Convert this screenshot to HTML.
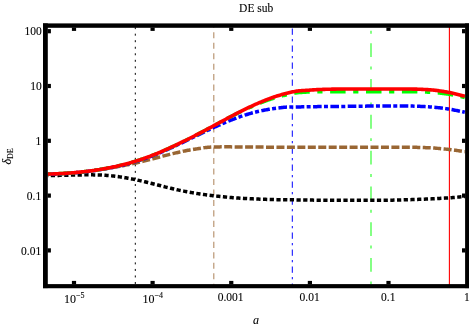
<!DOCTYPE html>
<html><head><meta charset="utf-8">
<style>
html,body{margin:0;padding:0;background:#fff;}
body{width:471px;height:326px;overflow:hidden;font-family:"Liberation Serif",serif;}
svg{display:block;}
g.t{will-change:transform;}
text{font-family:"Liberation Serif",serif;fill:#000;stroke:#000;stroke-width:0.1px;}
</style></head><body>
<svg width="471" height="326" viewBox="0 0 471 326">
<rect width="471" height="326" fill="#fff"/>
<defs><clipPath id="c"><rect x="45" y="25" width="422" height="261"/></clipPath></defs>
<g clip-path="url(#c)" fill="none">
  <!-- vertical marker lines -->
  <line x1="135.3" x2="135.3" y1="27.13" y2="286" stroke="#000" stroke-width="1" stroke-dasharray="2 4.535"/>
  <line x1="213.8" x2="213.8" y1="21.72" y2="286" stroke="#996633" stroke-opacity="0.75" stroke-width="1.1" stroke-dasharray="6.1 4.38"/>
  <line x1="292.3" x2="292.3" y1="28.5" y2="286" stroke="#0000ff" stroke-width="1" stroke-dasharray="6.3 4.2 2.3 4.2"/>
  <line x1="371" x2="371" y1="30.8" y2="286" stroke="#00ff00" stroke-opacity="0.8" stroke-width="1.2" stroke-dasharray="2.9 9.55 13.8 9.55"/>
  <line x1="449.4" x2="449.4" y1="25" y2="286" stroke="#ff0000" stroke-width="1.1"/>
  <!-- curves -->
  <path d="M47.8,175.41 L48.8,175.41 L49.8,175.41 L50.8,175.41 L51.8,175.41 L52.8,175.40 L53.8,175.40 L54.8,175.40 L55.8,175.39 L56.8,175.39 L57.8,175.39 L58.8,175.38 L59.8,175.37 L60.8,175.35 L61.8,175.33 L62.8,175.31 L63.8,175.28 L64.8,175.26 L65.8,175.23 L66.8,175.21 L67.8,175.18 L68.8,175.16 L69.8,175.14 L70.8,175.11 L71.8,175.08 L72.8,175.06 L73.8,175.03 L74.8,175.01 L75.8,174.99 L76.8,174.97 L77.8,174.95 L78.8,174.93 L79.8,174.92 L80.8,174.90 L81.8,174.88 L82.8,174.87 L83.8,174.86 L84.8,174.84 L85.8,174.84 L86.8,174.83 L87.8,174.83 L88.8,174.83 L89.8,174.84 L90.8,174.84 L91.8,174.86 L92.8,174.87 L93.8,174.89 L94.8,174.91 L95.8,174.93 L96.8,174.95 L97.8,174.97 L98.8,175.00 L99.8,175.03 L100.8,175.07 L101.8,175.12 L102.8,175.18 L103.8,175.24 L104.8,175.30 L105.8,175.37 L106.8,175.44 L107.8,175.51 L108.8,175.59 L109.8,175.68 L110.8,175.77 L111.8,175.88 L112.8,175.98 L113.8,176.10 L114.8,176.22 L115.8,176.34 L116.8,176.47 L117.8,176.59 L118.8,176.73 L119.8,176.87 L120.8,177.01 L121.8,177.17 L122.8,177.33 L123.8,177.49 L124.8,177.66 L125.8,177.83 L126.8,178.01 L127.8,178.18 L128.8,178.36 L129.8,178.55 L130.8,178.74 L131.8,178.94 L132.8,179.14 L133.8,179.34 L134.8,179.55 L135.8,179.76 L136.8,179.97 L137.8,180.19 L138.8,180.40 L139.8,180.62 L140.8,180.85 L141.8,181.08 L142.8,181.31 L143.8,181.55 L144.8,181.79 L145.8,182.02 L146.8,182.27 L147.8,182.51 L148.8,182.75 L149.8,183.00 L150.8,183.25 L151.8,183.50 L152.8,183.76 L153.8,184.01 L154.8,184.27 L155.8,184.52 L156.8,184.78 L157.8,185.03 L158.8,185.29 L159.8,185.55 L160.8,185.80 L161.8,186.06 L162.8,186.32 L163.8,186.57 L164.8,186.83 L165.8,187.08 L166.8,187.33 L167.8,187.57 L168.8,187.82 L169.8,188.06 L170.8,188.30 L171.8,188.54 L172.8,188.78 L173.8,189.01 L174.8,189.24 L175.8,189.47 L176.8,189.69 L177.8,189.91 L178.8,190.13 L179.8,190.34 L180.8,190.55 L181.8,190.75 L182.8,190.95 L183.8,191.15 L184.8,191.35 L185.8,191.54 L186.8,191.73 L187.8,191.91 L188.8,192.10 L189.8,192.28 L190.8,192.45 L191.8,192.63 L192.8,192.80 L193.8,192.97 L194.8,193.13 L195.8,193.29 L196.8,193.45 L197.8,193.61 L198.8,193.76 L199.8,193.92 L200.8,194.07 L201.8,194.21 L202.8,194.36 L203.8,194.50 L204.8,194.64 L205.8,194.78 L206.8,194.91 L207.8,195.04 L208.8,195.17 L209.8,195.30 L210.8,195.42 L211.8,195.55 L212.8,195.67 L213.8,195.79 L214.8,195.90 L215.8,196.02 L216.8,196.13 L217.8,196.24 L218.8,196.34 L219.8,196.45 L220.8,196.55 L221.8,196.65 L222.8,196.75 L223.8,196.85 L224.8,196.95 L225.8,197.04 L226.8,197.13 L227.8,197.22 L228.8,197.31 L229.8,197.39 L230.8,197.47 L231.8,197.56 L232.8,197.64 L233.8,197.71 L234.8,197.79 L235.8,197.86 L236.8,197.94 L237.8,198.01 L238.8,198.07 L239.8,198.14 L240.8,198.21 L241.8,198.27 L242.8,198.33 L243.8,198.40 L244.8,198.45 L245.8,198.51 L246.8,198.57 L247.8,198.62 L248.8,198.67 L249.8,198.73 L250.8,198.78 L251.8,198.82 L252.8,198.87 L253.8,198.92 L254.8,198.96 L255.8,199.01 L256.8,199.05 L257.8,199.09 L258.8,199.12 L259.8,199.16 L260.8,199.20 L261.8,199.23 L262.8,199.27 L263.8,199.30 L264.8,199.33 L265.8,199.36 L266.8,199.39 L267.8,199.42 L268.8,199.45 L269.8,199.47 L270.8,199.50 L271.8,199.52 L272.8,199.55 L273.8,199.57 L274.8,199.59 L275.8,199.61 L276.8,199.63 L277.8,199.65 L278.8,199.66 L279.8,199.68 L280.8,199.70 L281.8,199.71 L282.8,199.72 L283.8,199.74 L284.8,199.75 L285.8,199.76 L286.8,199.77 L287.8,199.79 L288.8,199.80 L289.8,199.81 L290.8,199.83 L291.8,199.84 L292.8,199.86 L293.8,199.87 L294.8,199.88 L295.8,199.90 L296.8,199.91 L297.8,199.92 L298.8,199.93 L299.8,199.95 L300.8,199.96 L301.8,199.97 L302.8,199.99 L303.8,200.00 L304.8,200.01 L305.8,200.03 L306.8,200.04 L307.8,200.06 L308.8,200.07 L309.8,200.08 L310.8,200.10 L311.8,200.11 L312.8,200.12 L313.8,200.14 L314.8,200.15 L315.8,200.16 L316.8,200.17 L317.8,200.18 L318.8,200.19 L319.8,200.20 L320.8,200.21 L321.8,200.22 L322.8,200.22 L323.8,200.23 L324.8,200.24 L325.8,200.25 L326.8,200.26 L327.8,200.27 L328.8,200.27 L329.8,200.28 L330.8,200.29 L331.8,200.29 L332.8,200.30 L333.8,200.30 L334.8,200.30 L335.8,200.30 L336.8,200.30 L337.8,200.30 L338.8,200.30 L339.8,200.30 L340.8,200.30 L341.8,200.30 L342.8,200.30 L343.8,200.30 L344.8,200.30 L345.8,200.30 L346.8,200.30 L347.8,200.30 L348.8,200.30 L349.8,200.30 L350.8,200.30 L351.8,200.30 L352.8,200.30 L353.8,200.30 L354.8,200.30 L355.8,200.30 L356.8,200.30 L357.8,200.30 L358.8,200.30 L359.8,200.30 L360.8,200.30 L361.8,200.30 L362.8,200.30 L363.8,200.30 L364.8,200.30 L365.8,200.30 L366.8,200.30 L367.8,200.30 L368.8,200.30 L369.8,200.30 L370.8,200.30 L371.8,200.30 L372.8,200.30 L373.8,200.30 L374.8,200.30 L375.8,200.30 L376.8,200.30 L377.8,200.30 L378.8,200.30 L379.8,200.30 L380.8,200.29 L381.8,200.29 L382.8,200.28 L383.8,200.27 L384.8,200.26 L385.8,200.25 L386.8,200.23 L387.8,200.22 L388.8,200.20 L389.8,200.19 L390.8,200.17 L391.8,200.16 L392.8,200.14 L393.8,200.12 L394.8,200.10 L395.8,200.08 L396.8,200.06 L397.8,200.03 L398.8,200.00 L399.8,199.97 L400.8,199.93 L401.8,199.90 L402.8,199.87 L403.8,199.84 L404.8,199.81 L405.8,199.78 L406.8,199.75 L407.8,199.72 L408.8,199.69 L409.8,199.66 L410.8,199.63 L411.8,199.60 L412.8,199.57 L413.8,199.54 L414.8,199.51 L415.8,199.47 L416.8,199.44 L417.8,199.41 L418.8,199.37 L419.8,199.34 L420.8,199.30 L421.8,199.27 L422.8,199.23 L423.8,199.19 L424.8,199.15 L425.8,199.11 L426.8,199.07 L427.8,199.03 L428.8,198.99 L429.8,198.94 L430.8,198.89 L431.8,198.85 L432.8,198.80 L433.8,198.74 L434.8,198.69 L435.8,198.64 L436.8,198.58 L437.8,198.52 L438.8,198.47 L439.8,198.41 L440.8,198.35 L441.8,198.30 L442.8,198.24 L443.8,198.18 L444.8,198.12 L445.8,198.05 L446.8,197.99 L447.8,197.92 L448.8,197.86 L449.8,197.79 L450.8,197.71 L451.8,197.64 L452.8,197.56 L453.8,197.47 L454.8,197.39 L455.8,197.31 L456.8,197.22 L457.8,197.13 L458.8,197.04 L459.8,196.94 L460.8,196.85 L461.8,196.75 L462.8,196.65 L463.8,196.55 L464.8,196.44" stroke="#000" stroke-width="3.5" stroke-dasharray="4.25 2.45" stroke-dashoffset="3.69"/>
  <path d="M47.8,174.30 L48.8,174.27 L49.8,174.24 L50.8,174.20 L51.8,174.17 L52.8,174.13 L53.8,174.09 L54.8,174.05 L55.8,174.01 L56.8,173.97 L57.8,173.92 L58.8,173.87 L59.8,173.82 L60.8,173.77 L61.8,173.72 L62.8,173.66 L63.8,173.60 L64.8,173.54 L65.8,173.47 L66.8,173.41 L67.8,173.34 L68.8,173.27 L69.8,173.20 L70.8,173.12 L71.8,173.04 L72.8,172.96 L73.8,172.88 L74.8,172.79 L75.8,172.70 L76.8,172.61 L77.8,172.52 L78.8,172.42 L79.8,172.32 L80.8,172.22 L81.8,172.11 L82.8,172.01 L83.8,171.89 L84.8,171.78 L85.8,171.66 L86.8,171.54 L87.8,171.42 L88.8,171.30 L89.8,171.17 L90.8,171.04 L91.8,170.90 L92.8,170.76 L93.8,170.62 L94.8,170.47 L95.8,170.32 L96.8,170.17 L97.8,170.02 L98.8,169.87 L99.8,169.71 L100.8,169.54 L101.8,169.38 L102.8,169.21 L103.8,169.04 L104.8,168.86 L105.8,168.69 L106.8,168.52 L107.8,168.35 L108.8,168.18 L109.8,168.00 L110.8,167.83 L111.8,167.66 L112.8,167.49 L113.8,167.32 L114.8,167.14 L115.8,166.97 L116.8,166.79 L117.8,166.61 L118.8,166.42 L119.8,166.24 L120.8,166.06 L121.8,165.87 L122.8,165.68 L123.8,165.49 L124.8,165.30 L125.8,165.10 L126.8,164.90 L127.8,164.70 L128.8,164.50 L129.8,164.29 L130.8,164.07 L131.8,163.86 L132.8,163.64 L133.8,163.41 L134.8,163.19 L135.8,162.96 L136.8,162.74 L137.8,162.51 L138.8,162.28 L139.8,162.04 L140.8,161.80 L141.8,161.57 L142.8,161.32 L143.8,161.08 L144.8,160.84 L145.8,160.59 L146.8,160.34 L147.8,160.09 L148.8,159.84 L149.8,159.58 L150.8,159.33 L151.8,159.07 L152.8,158.81 L153.8,158.54 L154.8,158.28 L155.8,158.02 L156.8,157.76 L157.8,157.50 L158.8,157.24 L159.8,156.97 L160.8,156.71 L161.8,156.45 L162.8,156.18 L163.8,155.92 L164.8,155.66 L165.8,155.40 L166.8,155.14 L167.8,154.89 L168.8,154.63 L169.8,154.38 L170.8,154.13 L171.8,153.88 L172.8,153.63 L173.8,153.38 L174.8,153.14 L175.8,152.90 L176.8,152.67 L177.8,152.44 L178.8,152.21 L179.8,151.99 L180.8,151.77 L181.8,151.55 L182.8,151.33 L183.8,151.12 L184.8,150.92 L185.8,150.72 L186.8,150.52 L187.8,150.34 L188.8,150.16 L189.8,149.98 L190.8,149.81 L191.8,149.65 L192.8,149.49 L193.8,149.33 L194.8,149.18 L195.8,149.03 L196.8,148.87 L197.8,148.72 L198.8,148.57 L199.8,148.41 L200.8,148.25 L201.8,148.09 L202.8,147.93 L203.8,147.78 L204.8,147.64 L205.8,147.51 L206.8,147.40 L207.8,147.31 L208.8,147.24 L209.8,147.18 L210.8,147.12 L211.8,147.06 L212.8,147.02 L213.8,146.98 L214.8,146.95 L215.8,146.94 L216.8,146.92 L217.8,146.91 L218.8,146.89 L219.8,146.88 L220.8,146.87 L221.8,146.86 L222.8,146.86 L223.8,146.85 L224.8,146.85 L225.8,146.85 L226.8,146.85 L227.8,146.86 L228.8,146.86 L229.8,146.87 L230.8,146.87 L231.8,146.88 L232.8,146.89 L233.8,146.90 L234.8,146.91 L235.8,146.92 L236.8,146.92 L237.8,146.93 L238.8,146.94 L239.8,146.95 L240.8,146.96 L241.8,146.96 L242.8,146.97 L243.8,146.98 L244.8,146.99 L245.8,146.99 L246.8,147.00 L247.8,147.01 L248.8,147.02 L249.8,147.03 L250.8,147.03 L251.8,147.04 L252.8,147.05 L253.8,147.06 L254.8,147.06 L255.8,147.07 L256.8,147.08 L257.8,147.09 L258.8,147.09 L259.8,147.10 L260.8,147.10 L261.8,147.11 L262.8,147.12 L263.8,147.12 L264.8,147.13 L265.8,147.13 L266.8,147.14 L267.8,147.14 L268.8,147.15 L269.8,147.16 L270.8,147.16 L271.8,147.17 L272.8,147.17 L273.8,147.18 L274.8,147.18 L275.8,147.18 L276.8,147.19 L277.8,147.19 L278.8,147.20 L279.8,147.20 L280.8,147.20 L281.8,147.21 L282.8,147.21 L283.8,147.21 L284.8,147.22 L285.8,147.22 L286.8,147.22 L287.8,147.23 L288.8,147.23 L289.8,147.23 L290.8,147.24 L291.8,147.24 L292.8,147.24 L293.8,147.24 L294.8,147.24 L295.8,147.25 L296.8,147.25 L297.8,147.25 L298.8,147.25 L299.8,147.25 L300.8,147.25 L301.8,147.25 L302.8,147.25 L303.8,147.25 L304.8,147.25 L305.8,147.25 L306.8,147.25 L307.8,147.25 L308.8,147.25 L309.8,147.25 L310.8,147.25 L311.8,147.25 L312.8,147.25 L313.8,147.25 L314.8,147.25 L315.8,147.25 L316.8,147.25 L317.8,147.25 L318.8,147.25 L319.8,147.25 L320.8,147.25 L321.8,147.25 L322.8,147.25 L323.8,147.25 L324.8,147.25 L325.8,147.25 L326.8,147.25 L327.8,147.25 L328.8,147.25 L329.8,147.25 L330.8,147.25 L331.8,147.25 L332.8,147.25 L333.8,147.25 L334.8,147.25 L335.8,147.25 L336.8,147.25 L337.8,147.25 L338.8,147.25 L339.8,147.25 L340.8,147.25 L341.8,147.25 L342.8,147.25 L343.8,147.25 L344.8,147.25 L345.8,147.25 L346.8,147.25 L347.8,147.25 L348.8,147.25 L349.8,147.25 L350.8,147.25 L351.8,147.25 L352.8,147.25 L353.8,147.25 L354.8,147.25 L355.8,147.25 L356.8,147.25 L357.8,147.25 L358.8,147.25 L359.8,147.25 L360.8,147.25 L361.8,147.25 L362.8,147.25 L363.8,147.25 L364.8,147.25 L365.8,147.25 L366.8,147.25 L367.8,147.25 L368.8,147.25 L369.8,147.25 L370.8,147.25 L371.8,147.25 L372.8,147.25 L373.8,147.25 L374.8,147.25 L375.8,147.25 L376.8,147.25 L377.8,147.25 L378.8,147.25 L379.8,147.25 L380.8,147.25 L381.8,147.25 L382.8,147.25 L383.8,147.25 L384.8,147.25 L385.8,147.25 L386.8,147.25 L387.8,147.25 L388.8,147.25 L389.8,147.25 L390.8,147.25 L391.8,147.25 L392.8,147.25 L393.8,147.25 L394.8,147.25 L395.8,147.25 L396.8,147.25 L397.8,147.25 L398.8,147.25 L399.8,147.25 L400.8,147.25 L401.8,147.25 L402.8,147.25 L403.8,147.25 L404.8,147.25 L405.8,147.25 L406.8,147.25 L407.8,147.25 L408.8,147.25 L409.8,147.25 L410.8,147.25 L411.8,147.26 L412.8,147.27 L413.8,147.29 L414.8,147.31 L415.8,147.34 L416.8,147.36 L417.8,147.39 L418.8,147.42 L419.8,147.44 L420.8,147.47 L421.8,147.50 L422.8,147.53 L423.8,147.56 L424.8,147.60 L425.8,147.63 L426.8,147.67 L427.8,147.71 L428.8,147.76 L429.8,147.80 L430.8,147.85 L431.8,147.90 L432.8,147.96 L433.8,148.02 L434.8,148.09 L435.8,148.18 L436.8,148.27 L437.8,148.37 L438.8,148.48 L439.8,148.58 L440.8,148.68 L441.8,148.77 L442.8,148.86 L443.8,148.95 L444.8,149.04 L445.8,149.13 L446.8,149.22 L447.8,149.31 L448.8,149.41 L449.8,149.52 L450.8,149.64 L451.8,149.77 L452.8,149.90 L453.8,150.04 L454.8,150.18 L455.8,150.32 L456.8,150.47 L457.8,150.62 L458.8,150.77 L459.8,150.92 L460.8,151.08 L461.8,151.24 L462.8,151.40 L463.8,151.56 L464.8,151.73" stroke="#996633" stroke-width="3.5" stroke-dasharray="8 2.45" stroke-dashoffset="9.06"/>
  <path d="M47.8,174.30 L48.8,174.27 L49.8,174.24 L50.8,174.20 L51.8,174.17 L52.8,174.13 L53.8,174.09 L54.8,174.05 L55.8,174.01 L56.8,173.97 L57.8,173.92 L58.8,173.87 L59.8,173.82 L60.8,173.77 L61.8,173.72 L62.8,173.66 L63.8,173.60 L64.8,173.54 L65.8,173.47 L66.8,173.41 L67.8,173.34 L68.8,173.27 L69.8,173.20 L70.8,173.12 L71.8,173.04 L72.8,172.96 L73.8,172.88 L74.8,172.79 L75.8,172.70 L76.8,172.61 L77.8,172.52 L78.8,172.42 L79.8,172.32 L80.8,172.22 L81.8,172.11 L82.8,172.01 L83.8,171.89 L84.8,171.78 L85.8,171.66 L86.8,171.54 L87.8,171.42 L88.8,171.30 L89.8,171.17 L90.8,171.04 L91.8,170.90 L92.8,170.76 L93.8,170.62 L94.8,170.48 L95.8,170.33 L96.8,170.18 L97.8,170.02 L98.8,169.87 L99.8,169.70 L100.8,169.54 L101.8,169.37 L102.8,169.19 L103.8,169.01 L104.8,168.83 L105.8,168.65 L106.8,168.47 L107.8,168.28 L108.8,168.10 L109.8,167.91 L110.8,167.72 L111.8,167.53 L112.8,167.33 L113.8,167.13 L114.8,166.93 L115.8,166.73 L116.8,166.52 L117.8,166.30 L118.8,166.08 L119.8,165.86 L120.8,165.64 L121.8,165.41 L122.8,165.17 L123.8,164.93 L124.8,164.69 L125.8,164.44 L126.8,164.19 L127.8,163.93 L128.8,163.66 L129.8,163.38 L130.8,163.10 L131.8,162.81 L132.8,162.52 L133.8,162.22 L134.8,161.92 L135.8,161.61 L136.8,161.29 L137.8,160.98 L138.8,160.66 L139.8,160.33 L140.8,160.00 L141.8,159.66 L142.8,159.32 L143.8,158.98 L144.8,158.63 L145.8,158.27 L146.8,157.91 L147.8,157.55 L148.8,157.18 L149.8,156.81 L150.8,156.43 L151.8,156.05 L152.8,155.66 L153.8,155.27 L154.8,154.88 L155.8,154.48 L156.8,154.07 L157.8,153.67 L158.8,153.26 L159.8,152.84 L160.8,152.42 L161.8,152.00 L162.8,151.57 L163.8,151.13 L164.8,150.70 L165.8,150.26 L166.8,149.82 L167.8,149.37 L168.8,148.93 L169.8,148.47 L170.8,148.02 L171.8,147.56 L172.8,147.10 L173.8,146.63 L174.8,146.17 L175.8,145.70 L176.8,145.23 L177.8,144.76 L178.8,144.29 L179.8,143.81 L180.8,143.34 L181.8,142.86 L182.8,142.37 L183.8,141.89 L184.8,141.41 L185.8,140.92 L186.8,140.44 L187.8,139.96 L188.8,139.47 L189.8,138.99 L190.8,138.50 L191.8,138.01 L192.8,137.52 L193.8,137.04 L194.8,136.55 L195.8,136.06 L196.8,135.57 L197.8,135.09 L198.8,134.61 L199.8,134.12 L200.8,133.64 L201.8,133.16 L202.8,132.67 L203.8,132.19 L204.8,131.71 L205.8,131.24 L206.8,130.76 L207.8,130.29 L208.8,129.82 L209.8,129.35 L210.8,128.88 L211.8,128.42 L212.8,127.95 L213.8,127.49 L214.8,127.03 L215.8,126.58 L216.8,126.13 L217.8,125.68 L218.8,125.24 L219.8,124.80 L220.8,124.36 L221.8,123.92 L222.8,123.49 L223.8,123.06 L224.8,122.63 L225.8,122.21 L226.8,121.80 L227.8,121.39 L228.8,120.98 L229.8,120.58 L230.8,120.18 L231.8,119.79 L232.8,119.40 L233.8,119.01 L234.8,118.63 L235.8,118.25 L236.8,117.89 L237.8,117.53 L238.8,117.17 L239.8,116.82 L240.8,116.47 L241.8,116.13 L242.8,115.79 L243.8,115.46 L244.8,115.14 L245.8,114.82 L246.8,114.51 L247.8,114.21 L248.8,113.92 L249.8,113.63 L250.8,113.34 L251.8,113.06 L252.8,112.79 L253.8,112.53 L254.8,112.27 L255.8,112.02 L256.8,111.77 L257.8,111.54 L258.8,111.31 L259.8,111.08 L260.8,110.87 L261.8,110.65 L262.8,110.44 L263.8,110.24 L264.8,110.05 L265.8,109.86 L266.8,109.68 L267.8,109.50 L268.8,109.33 L269.8,109.17 L270.8,109.01 L271.8,108.85 L272.8,108.70 L273.8,108.56 L274.8,108.42 L275.8,108.28 L276.8,108.16 L277.8,108.04 L278.8,107.92 L279.8,107.80 L280.8,107.68 L281.8,107.56 L282.8,107.45 L283.8,107.34 L284.8,107.25 L285.8,107.17 L286.8,107.12 L287.8,107.08 L288.8,107.05 L289.8,107.03 L290.8,107.02 L291.8,107.00 L292.8,106.99 L293.8,106.97 L294.8,106.96 L295.8,106.95 L296.8,106.94 L297.8,106.93 L298.8,106.92 L299.8,106.90 L300.8,106.89 L301.8,106.87 L302.8,106.86 L303.8,106.84 L304.8,106.82 L305.8,106.81 L306.8,106.79 L307.8,106.77 L308.8,106.76 L309.8,106.74 L310.8,106.73 L311.8,106.71 L312.8,106.69 L313.8,106.68 L314.8,106.66 L315.8,106.65 L316.8,106.64 L317.8,106.62 L318.8,106.61 L319.8,106.60 L320.8,106.59 L321.8,106.58 L322.8,106.57 L323.8,106.57 L324.8,106.56 L325.8,106.55 L326.8,106.54 L327.8,106.54 L328.8,106.53 L329.8,106.52 L330.8,106.52 L331.8,106.51 L332.8,106.51 L333.8,106.50 L334.8,106.49 L335.8,106.48 L336.8,106.48 L337.8,106.47 L338.8,106.46 L339.8,106.45 L340.8,106.44 L341.8,106.43 L342.8,106.42 L343.8,106.41 L344.8,106.40 L345.8,106.38 L346.8,106.37 L347.8,106.36 L348.8,106.35 L349.8,106.33 L350.8,106.32 L351.8,106.30 L352.8,106.29 L353.8,106.28 L354.8,106.26 L355.8,106.25 L356.8,106.24 L357.8,106.23 L358.8,106.21 L359.8,106.20 L360.8,106.19 L361.8,106.18 L362.8,106.17 L363.8,106.15 L364.8,106.14 L365.8,106.13 L366.8,106.11 L367.8,106.10 L368.8,106.09 L369.8,106.07 L370.8,106.06 L371.8,106.05 L372.8,106.04 L373.8,106.03 L374.8,106.02 L375.8,106.02 L376.8,106.01 L377.8,106.00 L378.8,106.00 L379.8,106.00 L380.8,106.00 L381.8,106.00 L382.8,106.00 L383.8,106.00 L384.8,106.00 L385.8,106.00 L386.8,106.00 L387.8,106.00 L388.8,106.00 L389.8,106.00 L390.8,106.00 L391.8,106.00 L392.8,106.00 L393.8,106.00 L394.8,106.00 L395.8,106.00 L396.8,106.00 L397.8,106.00 L398.8,106.00 L399.8,106.00 L400.8,106.00 L401.8,106.00 L402.8,106.00 L403.8,106.00 L404.8,106.00 L405.8,106.00 L406.8,106.01 L407.8,106.02 L408.8,106.03 L409.8,106.05 L410.8,106.07 L411.8,106.09 L412.8,106.12 L413.8,106.14 L414.8,106.17 L415.8,106.19 L416.8,106.22 L417.8,106.26 L418.8,106.29 L419.8,106.34 L420.8,106.38 L421.8,106.43 L422.8,106.48 L423.8,106.53 L424.8,106.59 L425.8,106.65 L426.8,106.70 L427.8,106.77 L428.8,106.84 L429.8,106.91 L430.8,106.98 L431.8,107.06 L432.8,107.14 L433.8,107.23 L434.8,107.32 L435.8,107.41 L436.8,107.52 L437.8,107.63 L438.8,107.74 L439.8,107.86 L440.8,107.98 L441.8,108.10 L442.8,108.22 L443.8,108.35 L444.8,108.49 L445.8,108.63 L446.8,108.77 L447.8,108.92 L448.8,109.07 L449.8,109.23 L450.8,109.40 L451.8,109.58 L452.8,109.77 L453.8,109.96 L454.8,110.16 L455.8,110.36 L456.8,110.56 L457.8,110.76 L458.8,110.96 L459.8,111.16 L460.8,111.37 L461.8,111.58 L462.8,111.79 L463.8,112.00 L464.8,112.21" stroke="#0000ff" stroke-width="3.5" stroke-dasharray="8.6 2.3 4.0 2.43" stroke-dashoffset="0.37"/>
  <path d="M47.8,174.10 L48.8,174.07 L49.8,174.04 L50.8,174.00 L51.8,173.97 L52.8,173.93 L53.8,173.89 L54.8,173.85 L55.8,173.81 L56.8,173.77 L57.8,173.72 L58.8,173.67 L59.8,173.62 L60.8,173.57 L61.8,173.52 L62.8,173.46 L63.8,173.40 L64.8,173.34 L65.8,173.27 L66.8,173.21 L67.8,173.14 L68.8,173.07 L69.8,173.00 L70.8,172.92 L71.8,172.84 L72.8,172.76 L73.8,172.68 L74.8,172.59 L75.8,172.50 L76.8,172.41 L77.8,172.32 L78.8,172.22 L79.8,172.12 L80.8,172.02 L81.8,171.91 L82.8,171.81 L83.8,171.69 L84.8,171.58 L85.8,171.46 L86.8,171.34 L87.8,171.22 L88.8,171.10 L89.8,170.97 L90.8,170.84 L91.8,170.70 L92.8,170.56 L93.8,170.42 L94.8,170.28 L95.8,170.13 L96.8,169.98 L97.8,169.82 L98.8,169.67 L99.8,169.50 L100.8,169.34 L101.8,169.17 L102.8,169.00 L103.8,168.82 L104.8,168.64 L105.8,168.46 L106.8,168.27 L107.8,168.08 L108.8,167.89 L109.8,167.69 L110.8,167.49 L111.8,167.29 L112.8,167.08 L113.8,166.86 L114.8,166.65 L115.8,166.42 L116.8,166.20 L117.8,165.97 L118.8,165.74 L119.8,165.50 L120.8,165.26 L121.8,165.02 L122.8,164.77 L123.8,164.51 L124.8,164.25 L125.8,163.99 L126.8,163.72 L127.8,163.45 L128.8,163.18 L129.8,162.90 L130.8,162.61 L131.8,162.33 L132.8,162.03 L133.8,161.73 L134.8,161.43 L135.8,161.12 L136.8,160.81 L137.8,160.50 L138.8,160.18 L139.8,159.85 L140.8,159.52 L141.8,159.18 L142.8,158.84 L143.8,158.49 L144.8,158.14 L145.8,157.79 L146.8,157.43 L147.8,157.06 L148.8,156.70 L149.8,156.32 L150.8,155.94 L151.8,155.55 L152.8,155.16 L153.8,154.76 L154.8,154.36 L155.8,153.96 L156.8,153.55 L157.8,153.14 L158.8,152.72 L159.8,152.30 L160.8,151.88 L161.8,151.45 L162.8,151.01 L163.8,150.57 L164.8,150.13 L165.8,149.69 L166.8,149.24 L167.8,148.79 L168.8,148.34 L169.8,147.89 L170.8,147.43 L171.8,146.96 L172.8,146.50 L173.8,146.03 L174.8,145.56 L175.8,145.09 L176.8,144.62 L177.8,144.14 L178.8,143.66 L179.8,143.18 L180.8,142.70 L181.8,142.22 L182.8,141.73 L183.8,141.24 L184.8,140.75 L185.8,140.26 L186.8,139.76 L187.8,139.26 L188.8,138.77 L189.8,138.26 L190.8,137.76 L191.8,137.26 L192.8,136.75 L193.8,136.24 L194.8,135.73 L195.8,135.21 L196.8,134.70 L197.8,134.18 L198.8,133.66 L199.8,133.14 L200.8,132.62 L201.8,132.09 L202.8,131.56 L203.8,131.03 L204.8,130.50 L205.8,129.97 L206.8,129.44 L207.8,128.91 L208.8,128.37 L209.8,127.84 L210.8,127.30 L211.8,126.76 L212.8,126.22 L213.8,125.68 L214.8,125.14 L215.8,124.60 L216.8,124.06 L217.8,123.52 L218.8,122.99 L219.8,122.45 L220.8,121.91 L221.8,121.37 L222.8,120.83 L223.8,120.29 L224.8,119.76 L225.8,119.22 L226.8,118.69 L227.8,118.16 L228.8,117.63 L229.8,117.10 L230.8,116.59 L231.8,116.08 L232.8,115.58 L233.8,115.09 L234.8,114.59 L235.8,114.10 L236.8,113.60 L237.8,113.12 L238.8,112.63 L239.8,112.15 L240.8,111.67 L241.8,111.19 L242.8,110.71 L243.8,110.24 L244.8,109.77 L245.8,109.31 L246.8,108.85 L247.8,108.39 L248.8,107.94 L249.8,107.49 L250.8,107.04 L251.8,106.60 L252.8,106.16 L253.8,105.73 L254.8,105.30 L255.8,104.87 L256.8,104.45 L257.8,104.04 L258.8,103.64 L259.8,103.23 L260.8,102.83 L261.8,102.44 L262.8,102.05 L263.8,101.66 L264.8,101.28 L265.8,100.91 L266.8,100.55 L267.8,100.19 L268.8,99.84 L269.8,99.50 L270.8,99.16 L271.8,98.83 L272.8,98.50 L273.8,98.19 L274.8,97.88 L275.8,97.58 L276.8,97.28 L277.8,97.00 L278.8,96.73 L279.8,96.46 L280.8,96.19 L281.8,95.94 L282.8,95.68 L283.8,95.44 L284.8,95.21 L285.8,94.97 L286.8,94.74 L287.8,94.53 L288.8,94.31 L289.8,94.09 L290.8,93.88 L291.8,93.67 L292.8,93.47 L293.8,93.28 L294.8,93.10 L295.8,92.95 L296.8,92.82 L297.8,92.71 L298.8,92.63 L299.8,92.55 L300.8,92.47 L301.8,92.40 L302.8,92.34 L303.8,92.28 L304.8,92.22 L305.8,92.17 L306.8,92.12 L307.8,92.07 L308.8,92.02 L309.8,91.96 L310.8,91.93 L311.8,91.91 L312.8,91.89 L313.8,91.86 L314.8,91.84 L315.8,91.83 L316.8,91.81 L317.8,91.80 L318.8,91.80 L319.8,91.80 L320.8,91.79 L321.8,91.78 L322.8,91.77 L323.8,91.77 L324.8,91.76 L325.8,91.76 L326.8,91.76 L327.8,91.76 L328.8,91.76 L329.8,91.76 L330.8,91.76 L331.8,91.77 L332.8,91.78 L333.8,91.79 L334.8,91.80 L335.8,91.79 L336.8,91.78 L337.8,91.76 L338.8,91.75 L339.8,91.74 L340.8,91.72 L341.8,91.71 L342.8,91.70 L343.8,91.69 L344.8,91.68 L345.8,91.67 L346.8,91.67 L347.8,91.66 L348.8,91.66 L349.8,91.66 L350.8,91.66 L351.8,91.66 L352.8,91.66 L353.8,91.66 L354.8,91.67 L355.8,91.67 L356.8,91.67 L357.8,91.67 L358.8,91.67 L359.8,91.67 L360.8,91.67 L361.8,91.67 L362.8,91.67 L363.8,91.67 L364.8,91.67 L365.8,91.67 L366.8,91.67 L367.8,91.68 L368.8,91.68 L369.8,91.68 L370.8,91.68 L371.8,91.68 L372.8,91.68 L373.8,91.68 L374.8,91.68 L375.8,91.68 L376.8,91.68 L377.8,91.68 L378.8,91.68 L379.8,91.68 L380.8,91.69 L381.8,91.69 L382.8,91.69 L383.8,91.69 L384.8,91.69 L385.8,91.69 L386.8,91.69 L387.8,91.69 L388.8,91.69 L389.8,91.69 L390.8,91.69 L391.8,91.69 L392.8,91.69 L393.8,91.70 L394.8,91.70 L395.8,91.70 L396.8,91.70 L397.8,91.70 L398.8,91.70 L399.8,91.70 L400.8,91.69 L401.8,91.69 L402.8,91.68 L403.8,91.68 L404.8,91.68 L405.8,91.68 L406.8,91.69 L407.8,91.69 L408.8,91.70 L409.8,91.71 L410.8,91.71 L411.8,91.72 L412.8,91.73 L413.8,91.74 L414.8,91.75 L415.8,91.76 L416.8,91.78 L417.8,91.80 L418.8,91.82 L419.8,91.85 L420.8,91.88 L421.8,91.91 L422.8,91.95 L423.8,91.99 L424.8,92.03 L425.8,92.08 L426.8,92.12 L427.8,92.18 L428.8,92.23 L429.8,92.30 L430.8,92.34 L431.8,92.39 L432.8,92.44 L433.8,92.49 L434.8,92.56 L435.8,92.65 L436.8,92.74 L437.8,92.84 L438.8,92.95 L439.8,93.07 L440.8,93.18 L441.8,93.30 L442.8,93.42 L443.8,93.55 L444.8,93.69 L445.8,93.83 L446.8,93.97 L447.8,94.12 L448.8,94.27 L449.8,94.43 L450.8,94.60 L451.8,94.77 L452.8,94.95 L453.8,95.13 L454.8,95.32 L455.8,95.52 L456.8,95.72 L457.8,95.93 L458.8,96.15 L459.8,96.37 L460.8,96.60 L461.8,96.84 L462.8,97.09 L463.8,97.34 L464.8,97.60" stroke="#00ff00" stroke-width="3.5" stroke-dasharray="15.5 7.6 5.2 7.6" stroke-dashoffset="24.98"/>
  <path d="M47.8,174.10 L48.8,174.07 L49.8,174.04 L50.8,174.00 L51.8,173.97 L52.8,173.93 L53.8,173.89 L54.8,173.85 L55.8,173.81 L56.8,173.77 L57.8,173.72 L58.8,173.67 L59.8,173.62 L60.8,173.57 L61.8,173.52 L62.8,173.46 L63.8,173.40 L64.8,173.34 L65.8,173.27 L66.8,173.21 L67.8,173.14 L68.8,173.07 L69.8,173.00 L70.8,172.92 L71.8,172.84 L72.8,172.76 L73.8,172.68 L74.8,172.59 L75.8,172.50 L76.8,172.41 L77.8,172.32 L78.8,172.22 L79.8,172.12 L80.8,172.02 L81.8,171.91 L82.8,171.81 L83.8,171.69 L84.8,171.58 L85.8,171.46 L86.8,171.34 L87.8,171.22 L88.8,171.10 L89.8,170.97 L90.8,170.84 L91.8,170.70 L92.8,170.56 L93.8,170.42 L94.8,170.28 L95.8,170.13 L96.8,169.98 L97.8,169.82 L98.8,169.67 L99.8,169.50 L100.8,169.34 L101.8,169.17 L102.8,169.00 L103.8,168.82 L104.8,168.64 L105.8,168.46 L106.8,168.27 L107.8,168.08 L108.8,167.89 L109.8,167.69 L110.8,167.49 L111.8,167.29 L112.8,167.08 L113.8,166.86 L114.8,166.65 L115.8,166.42 L116.8,166.20 L117.8,165.97 L118.8,165.74 L119.8,165.50 L120.8,165.26 L121.8,165.02 L122.8,164.77 L123.8,164.51 L124.8,164.25 L125.8,163.99 L126.8,163.72 L127.8,163.45 L128.8,163.18 L129.8,162.90 L130.8,162.61 L131.8,162.33 L132.8,162.03 L133.8,161.73 L134.8,161.43 L135.8,161.12 L136.8,160.81 L137.8,160.50 L138.8,160.18 L139.8,159.85 L140.8,159.52 L141.8,159.18 L142.8,158.84 L143.8,158.49 L144.8,158.14 L145.8,157.79 L146.8,157.43 L147.8,157.06 L148.8,156.70 L149.8,156.32 L150.8,155.94 L151.8,155.55 L152.8,155.16 L153.8,154.76 L154.8,154.36 L155.8,153.96 L156.8,153.55 L157.8,153.14 L158.8,152.72 L159.8,152.30 L160.8,151.88 L161.8,151.45 L162.8,151.01 L163.8,150.57 L164.8,150.13 L165.8,149.69 L166.8,149.24 L167.8,148.79 L168.8,148.34 L169.8,147.89 L170.8,147.43 L171.8,146.96 L172.8,146.50 L173.8,146.03 L174.8,145.56 L175.8,145.09 L176.8,144.62 L177.8,144.14 L178.8,143.66 L179.8,143.18 L180.8,142.70 L181.8,142.22 L182.8,141.73 L183.8,141.24 L184.8,140.75 L185.8,140.26 L186.8,139.76 L187.8,139.26 L188.8,138.77 L189.8,138.26 L190.8,137.76 L191.8,137.26 L192.8,136.75 L193.8,136.24 L194.8,135.73 L195.8,135.21 L196.8,134.70 L197.8,134.18 L198.8,133.66 L199.8,133.14 L200.8,132.62 L201.8,132.09 L202.8,131.56 L203.8,131.03 L204.8,130.50 L205.8,129.97 L206.8,129.44 L207.8,128.91 L208.8,128.37 L209.8,127.84 L210.8,127.30 L211.8,126.76 L212.8,126.22 L213.8,125.68 L214.8,125.14 L215.8,124.60 L216.8,124.06 L217.8,123.52 L218.8,122.99 L219.8,122.45 L220.8,121.91 L221.8,121.37 L222.8,120.83 L223.8,120.29 L224.8,119.76 L225.8,119.22 L226.8,118.69 L227.8,118.16 L228.8,117.63 L229.8,117.10 L230.8,116.57 L231.8,116.04 L232.8,115.51 L233.8,114.99 L234.8,114.47 L235.8,113.95 L236.8,113.43 L237.8,112.92 L238.8,112.41 L239.8,111.90 L240.8,111.40 L241.8,110.89 L242.8,110.39 L243.8,109.90 L244.8,109.40 L245.8,108.91 L246.8,108.43 L247.8,107.95 L248.8,107.47 L249.8,106.99 L250.8,106.52 L251.8,106.05 L252.8,105.59 L253.8,105.13 L254.8,104.68 L255.8,104.23 L256.8,103.78 L257.8,103.35 L258.8,102.92 L259.8,102.49 L260.8,102.06 L261.8,101.64 L262.8,101.23 L263.8,100.82 L264.8,100.41 L265.8,100.02 L266.8,99.63 L267.8,99.25 L268.8,98.87 L269.8,98.50 L270.8,98.14 L271.8,97.77 L272.8,97.42 L273.8,97.07 L274.8,96.73 L275.8,96.40 L276.8,96.08 L277.8,95.77 L278.8,95.46 L279.8,95.16 L280.8,94.87 L281.8,94.58 L282.8,94.30 L283.8,94.03 L284.8,93.76 L285.8,93.51 L286.8,93.26 L287.8,93.02 L288.8,92.79 L289.8,92.55 L290.8,92.31 L291.8,92.08 L292.8,91.86 L293.8,91.65 L294.8,91.46 L295.8,91.28 L296.8,91.13 L297.8,91.00 L298.8,90.90 L299.8,90.80 L300.8,90.72 L301.8,90.64 L302.8,90.56 L303.8,90.49 L304.8,90.43 L305.8,90.36 L306.8,90.30 L307.8,90.24 L308.8,90.18 L309.8,90.11 L310.8,90.05 L311.8,89.98 L312.8,89.91 L313.8,89.84 L314.8,89.78 L315.8,89.71 L316.8,89.66 L317.8,89.60 L318.8,89.55 L319.8,89.51 L320.8,89.47 L321.8,89.43 L322.8,89.40 L323.8,89.37 L324.8,89.33 L325.8,89.30 L326.8,89.28 L327.8,89.25 L328.8,89.22 L329.8,89.20 L330.8,89.18 L331.8,89.16 L332.8,89.14 L333.8,89.12 L334.8,89.10 L335.8,89.09 L336.8,89.07 L337.8,89.06 L338.8,89.05 L339.8,89.03 L340.8,89.02 L341.8,89.01 L342.8,88.99 L343.8,88.98 L344.8,88.97 L345.8,88.97 L346.8,88.96 L347.8,88.95 L348.8,88.95 L349.8,88.95 L350.8,88.95 L351.8,88.95 L352.8,88.95 L353.8,88.95 L354.8,88.95 L355.8,88.95 L356.8,88.95 L357.8,88.95 L358.8,88.95 L359.8,88.95 L360.8,88.95 L361.8,88.95 L362.8,88.95 L363.8,88.95 L364.8,88.95 L365.8,88.95 L366.8,88.95 L367.8,88.95 L368.8,88.95 L369.8,88.95 L370.8,88.95 L371.8,88.95 L372.8,88.95 L373.8,88.95 L374.8,88.95 L375.8,88.95 L376.8,88.95 L377.8,88.95 L378.8,88.95 L379.8,88.95 L380.8,88.95 L381.8,88.95 L382.8,88.95 L383.8,88.95 L384.8,88.95 L385.8,88.95 L386.8,88.95 L387.8,88.95 L388.8,88.95 L389.8,88.95 L390.8,88.95 L391.8,88.95 L392.8,88.95 L393.8,88.95 L394.8,88.95 L395.8,88.95 L396.8,88.95 L397.8,88.95 L398.8,88.95 L399.8,88.95 L400.8,88.95 L401.8,88.95 L402.8,88.96 L403.8,88.96 L404.8,88.97 L405.8,88.98 L406.8,88.99 L407.8,89.01 L408.8,89.02 L409.8,89.04 L410.8,89.05 L411.8,89.07 L412.8,89.09 L413.8,89.11 L414.8,89.13 L415.8,89.15 L416.8,89.17 L417.8,89.19 L418.8,89.23 L419.8,89.26 L420.8,89.30 L421.8,89.35 L422.8,89.39 L423.8,89.44 L424.8,89.49 L425.8,89.54 L426.8,89.60 L427.8,89.66 L428.8,89.72 L429.8,89.79 L430.8,89.87 L431.8,89.95 L432.8,90.04 L433.8,90.13 L434.8,90.23 L435.8,90.35 L436.8,90.48 L437.8,90.62 L438.8,90.77 L439.8,90.92 L440.8,91.07 L441.8,91.22 L442.8,91.38 L443.8,91.55 L444.8,91.72 L445.8,91.89 L446.8,92.07 L447.8,92.26 L448.8,92.45 L449.8,92.64 L450.8,92.84 L451.8,93.04 L452.8,93.25 L453.8,93.47 L454.8,93.69 L455.8,93.92 L456.8,94.15 L457.8,94.39 L458.8,94.64 L459.8,94.90 L460.8,95.16 L461.8,95.43 L462.8,95.71 L463.8,95.99 L464.8,96.28" stroke="#ff0000" stroke-width="3.6"/>
</g>
<!-- frame -->
<g fill="#000">
<rect x="43.0" y="23.4" width="426.0" height="4.4"/>
<rect x="43.0" y="284.1" width="426.0" height="4.15"/>
<rect x="43.0" y="23.4" width="4.8" height="264.7"/>
<rect x="465.1" y="23.4" width="3.9" height="264.7"/>
<rect x="71.90" y="280.9" width="4.2" height="3.5"/><rect x="71.90" y="27.5" width="4.2" height="3.4"/><rect x="150.50" y="280.9" width="4.2" height="3.5"/><rect x="150.50" y="27.5" width="4.2" height="3.4"/><rect x="229.15" y="280.9" width="4.2" height="3.5"/><rect x="229.15" y="27.5" width="4.2" height="3.4"/><rect x="307.80" y="280.9" width="4.2" height="3.5"/><rect x="307.80" y="27.5" width="4.2" height="3.4"/><rect x="386.40" y="280.9" width="4.2" height="3.5"/><rect x="386.40" y="27.5" width="4.2" height="3.4"/><rect x="47.5" y="29.10" width="3.4" height="4.2"/><rect x="462.0" y="29.10" width="3.4" height="4.2"/><rect x="47.5" y="83.90" width="3.4" height="4.2"/><rect x="462.0" y="83.90" width="3.4" height="4.2"/><rect x="47.5" y="138.70" width="3.4" height="4.2"/><rect x="462.0" y="138.70" width="3.4" height="4.2"/><rect x="47.5" y="193.50" width="3.4" height="4.2"/><rect x="462.0" y="193.50" width="3.4" height="4.2"/><rect x="47.5" y="248.30" width="3.4" height="4.2"/><rect x="462.0" y="248.30" width="3.4" height="4.2"/>
</g>
<!-- labels -->
<g class="t" font-size="12">
<text transform="translate(256.2,11.9) scale(0.96,1)" text-anchor="middle">DE sub</text>
<text transform="translate(41.8,35.2) scale(0.96,1)" text-anchor="end">100</text>
<text transform="translate(41.8,90.1) scale(0.96,1)" text-anchor="end">10</text>
<text transform="translate(41.2,144.9) scale(0.96,1)" text-anchor="end">1</text>
<text transform="translate(41.2,199.7) scale(0.96,1)" text-anchor="end">0.1</text>
<text transform="translate(41.2,254.6) scale(0.96,1)" text-anchor="end">0.01</text>
<text x="63.9" y="302.6">10<tspan font-size="8" dy="-4.3">−5</tspan></text>
<text x="142.5" y="302.6">10<tspan font-size="8" dy="-4.3">−4</tspan></text>
<text transform="translate(230.6,300.8) scale(0.96,1)" text-anchor="middle">0.001</text>
<text transform="translate(309.6,300.8) scale(0.96,1)" text-anchor="middle">0.01</text>
<text transform="translate(388.3,300.8) scale(0.96,1)" text-anchor="middle">0.1</text>
<text transform="translate(466.9,300.8) scale(0.96,1)" text-anchor="middle">1</text>
<text x="256" y="323.5" text-anchor="middle" font-style="italic">a</text>
<text transform="translate(10.6,164.5) rotate(-90)" font-style="italic">δ<tspan font-size="8" font-style="normal" dy="2.2">DE</tspan></text>
</g>
</svg>
</body></html>
